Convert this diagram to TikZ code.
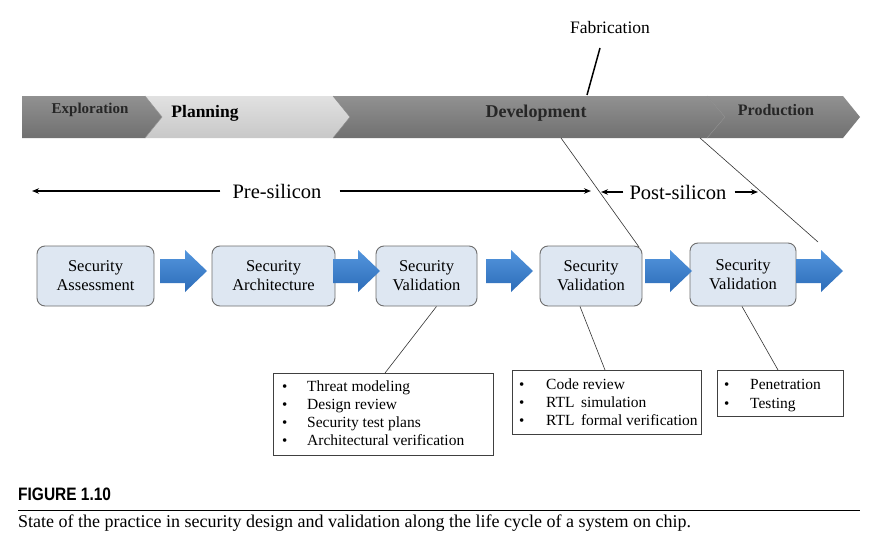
\documentclass[tikz,border=0pt]{standalone}
\usepackage{fontspec}
\setmainfont{Liberation Serif}
\newfontfamily\capsans[FakeStretch=0.86]{Liberation Sans}
\usetikzlibrary{arrows.meta}
\definecolor{bandDark}{RGB}{145,145,145}
\definecolor{bandDarkB}{RGB}{112,112,112}
\definecolor{bandLight}{RGB}{225,225,225}
\definecolor{bandLightB}{RGB}{200,200,200}
\definecolor{boxFill}{RGB}{222,231,242}
\definecolor{boxLine}{RGB}{110,110,110}
\definecolor{arrTop}{RGB}{84,150,222}
\definecolor{arrBot}{RGB}{44,108,184}
\tikzset{
  secbox/.style={draw=boxLine, line width=0.9pt, rounded corners=8pt, fill=boxFill,
    minimum height=60pt, align=center, font=\fontsize{16.5}{19}\selectfont, inner sep=0pt},
  listbox/.style={draw=black!75, line width=0.8pt, anchor=north west, inner sep=0pt},
  itemtext/.style={anchor=base west, font=\fontsize{15.5}{17}\selectfont, inner sep=0pt},
  bandlbl/.style={inner sep=0pt},
  thinline/.style={draw=black!80, line width=0.6pt},
  siliconarrow/.style={line width=1.2pt, -{Stealth[length=7pt,width=5.5pt]}},
  barrow/.pic={
    \shade[top color=arrTop, bottom color=arrBot]
      (0,-12) -- (25,-12) -- (25,-21) -- (47,0) -- (25,21) -- (25,12) -- (0,12) -- cycle;
  }
}
\newcommand\bulitem[2]{\makebox[#1][l]{\raisebox{-0.5pt}{\fontsize{15}{15}\selectfont\textbullet}}#2}
\begin{document}
\begin{tikzpicture}[x=1pt,y=-1pt]
\useasboundingbox (0,0) rectangle (889,538);
\fill[white] (0,0) rectangle (889,538);

% ---- phase band ----
\shade[top color=bandDark, bottom color=bandDarkB]
  (22,96) -- (145,96) -- (162,117) -- (145,138) -- (22,138) -- cycle;
\shade[top color=bandLight, bottom color=bandLightB]
  (145,96) -- (333,96) -- (350,117) -- (333,138) -- (145,138) -- (162,117) -- cycle;
\shade[top color=bandDark, bottom color=bandDarkB]
  (333,96) -- (707,96) -- (725,117) -- (707,138) -- (333,138) -- (350,117) -- cycle;
\shade[top color=bandDark, bottom color=bandDarkB]
  (707,96) -- (843,96) -- (860,117) -- (843,138) -- (707,138) -- (725,117) -- cycle;
\draw[black!45, line width=0.5pt] (145,96) -- (162,117) -- (145,138);
\draw[black!45, line width=0.5pt] (333,96) -- (350,117) -- (333,138);
\draw[black!45, line width=0.5pt] (707,96) -- (725,117) -- (707,138);

\node[bandlbl, font=\fontsize{15}{16}\selectfont\bfseries, text=black!85] (expl) at (90,110) {Exploration};
\node[bandlbl, font=\fontsize{17.5}{18}\selectfont\bfseries] (plan) at (205,113) {Planning};
\node[bandlbl, font=\fontsize{18}{19}\selectfont\bfseries, text=black!85] (dev) at (536,113) {Development};
\node[bandlbl, font=\fontsize{16}{17}\selectfont\bfseries, text=black!85] (prod) at (776,110) {Production};

% ---- fabrication ----
\node[font=\fontsize{17.5}{18}\selectfont, inner sep=0pt] (fab) at (610,28) {Fabrication};
\coordinate (fabtop) at (600,48);
\coordinate (fabbot) at (587,95);
\draw[line width=1.5pt] (fabtop) -- (fabbot);

% ---- pre / post silicon ----
\node[font=\fontsize{20.5}{22}\selectfont, inner sep=0pt] (pre) at (277,191) {Pre-silicon};
\node[font=\fontsize{20.5}{22}\selectfont, inner sep=0pt] (post) at (678,192) {Post-silicon};
\coordinate (preL) at (32,191);
\coordinate (preR) at (591,191);
\coordinate (postL) at (601,192);
\coordinate (postR) at (758,192);
\draw[siliconarrow] ([xshift=-12pt]pre.west) -- (preL);
\draw[siliconarrow] ([xshift=18pt]pre.east) -- (preR);
\draw[siliconarrow] ([xshift=-6pt]post.west) -- (postL);
\draw[siliconarrow] ([xshift=8pt]post.east) -- (postR);

% ---- security boxes ----
\node[secbox, minimum width=117pt] (b1) at (95.5,276) {Security\\Assessment};
\node[secbox, minimum width=123pt] (b2) at (273.5,276) {Security\\Architecture};
\node[secbox, minimum width=101pt] (b3) at (426.5,276) {Security\\Validation};
\node[secbox, minimum width=102pt] (b4) at (591,276) {Security\\Validation};
\node[secbox, minimum width=106pt, minimum height=63pt] (b5) at (743,274.5) {Security\\Validation};

% ---- block arrows ----
\pic at (160,271) {barrow};
\pic at (333,271) {barrow};
\pic at (486,271) {barrow};
\pic at (645,271) {barrow};
\pic at (796,271) {barrow};

% ---- diagonal lines from band ----
\coordinate (d1a) at (561,138);
\coordinate (d1b) at (639,247);
\coordinate (d2a) at (700,138);
\coordinate (d2b) at (818,242);
\draw[thinline] (d1a) -- (d1b);
\draw[thinline] (d2a) -- (d2b);

% ---- list boxes ----
\node[listbox, minimum width=220pt, minimum height=82pt] (l1) at (273,373) {};
\node[itemtext] (l1a) at (282,391) {\bulitem{25pt}{Threat modeling}};
\node[itemtext] (l1b) at (282,409) {\bulitem{25pt}{Design review}};
\node[itemtext] (l1c) at (282,427) {\bulitem{25pt}{Security test plans}};
\node[itemtext] (l1d) at (282,445) {\bulitem{25pt}{Architectural verification}};

\node[listbox, minimum width=189pt, minimum height=64pt] (l2) at (512,370) {};
\node[itemtext] (l2a) at (519,389) {\bulitem{27pt}{Code review}};
\node[itemtext] (l2b) at (519,407) {\bulitem{27pt}{RTL\, simulation}};
\node[itemtext] (l2c) at (519,425) {\bulitem{27pt}{RTL\, formal verification}};

\node[listbox, minimum width=126pt, minimum height=46pt] (l3) at (717,370) {};
\node[itemtext] (l3a) at (724,389) {\bulitem{26pt}{Penetration}};
\node[itemtext] (l3b) at (724,408) {\bulitem{26pt}{Testing}};

% ---- connectors box -> list ----
\draw[thinline] ([xshift=10pt]b3.south) -- ([xshift=112pt]l1.north west);
\draw[thinline] ([xshift=-11pt]b4.south) -- ([xshift=93pt]l2.north west);
\draw[thinline] ([xshift=-1pt]b5.south) -- ([xshift=61pt]l3.north west);

% ---- caption ----
\node[anchor=west, inner sep=0pt, font=\capsans\bfseries\fontsize{18}{20}\selectfont] (fig) at (18,494) {FIGURE 1.10};
\coordinate (ruleL) at (18,510);
\coordinate (ruleR) at (860,510);
\draw[line width=1pt] (ruleL) -- (ruleR);
\node[anchor=west, inner sep=0pt, font=\fontsize{18}{20}\selectfont] (cap) at (18,523) {State of the practice in security design and validation along the life cycle of a system on chip.};
\end{tikzpicture}
\end{document}
